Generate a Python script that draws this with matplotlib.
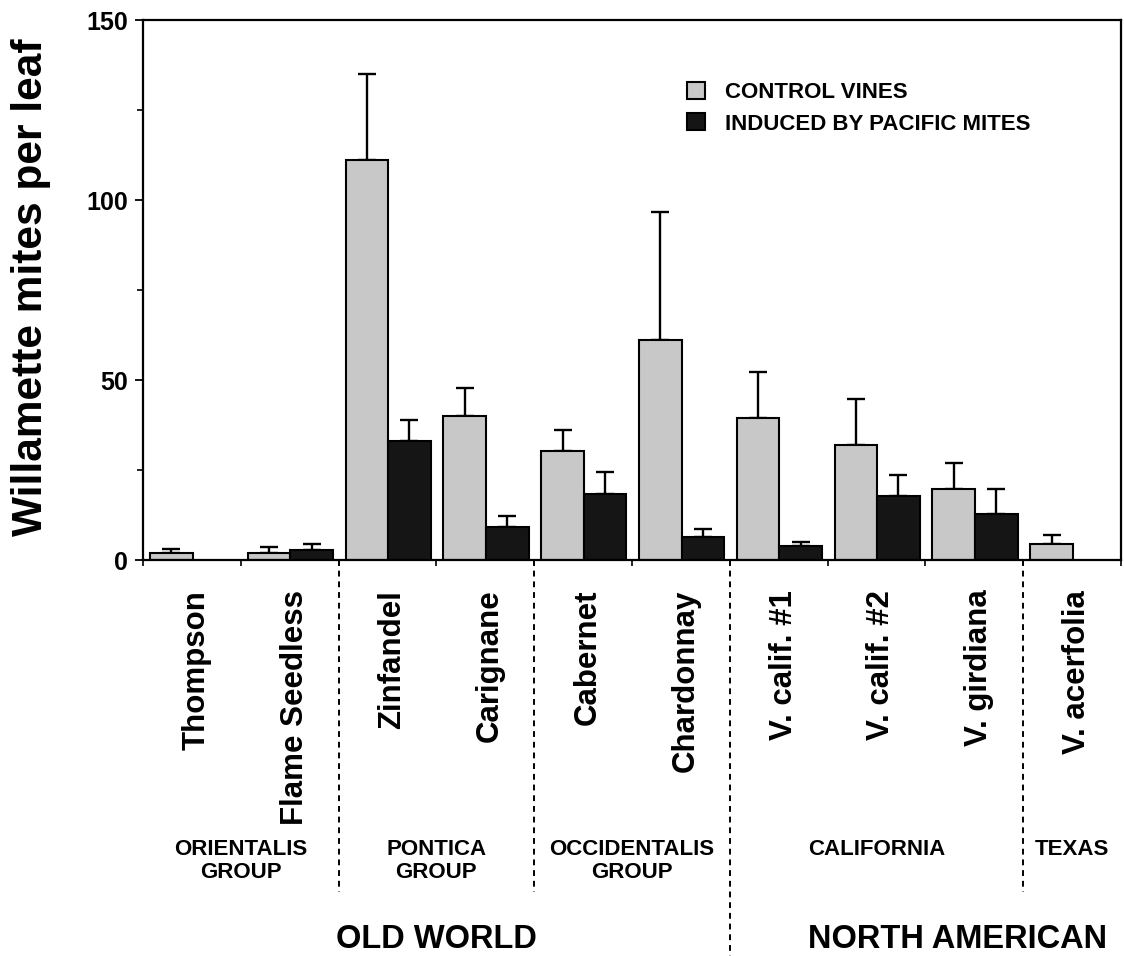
import matplotlib
matplotlib.use('Agg')
import matplotlib.pyplot as plt
import numpy as np
from matplotlib.lines import Line2D
from matplotlib.ticker import MultipleLocator
from matplotlib.transforms import blended_transform_factory

# Datos
categorias = ['Thompson', 'Flame Seedless', 'Zinfandel', 'Carignane', 'Cabernet',
              'Chardonnay', 'V. calif. #1', 'V. calif. #2', 'V. girdiana', 'V. acerfolia']
control = [1.9, 2.0, 111.1, 40.0, 30.3, 61.1, 39.4, 31.9, 19.7, 4.4]
control_err = [1.2, 1.6, 23.9, 7.8, 5.8, 35.6, 12.8, 12.8, 7.2, 2.5]
inducido = [np.nan, 2.8, 33.0, 9.2, 18.3, 6.4, 3.9, 17.8, 12.7, np.nan]
inducido_err = [np.nan, 1.6, 5.9, 3.1, 6.2, 2.2, 1.1, 5.8, 7.0, np.nan]

grupos = ['ORIENTALIS\nGROUP', 'PONTICA\nGROUP', 'OCCIDENTALIS\nGROUP', 'CALIFORNIA', 'TEXAS']
grupos_limites = [0, 2, 4, 6, 9, 10]
regiones = ['OLD WORLD', 'NORTH AMERICAN']
regiones_x = [3.0, 8.33]

plt.rcParams['font.family'] = ['Liberation Sans', 'DejaVu Sans']
plt.rcParams['font.weight'] = 'bold'

fig = plt.figure(figsize=(11.24, 9.56), dpi=100)
ax = fig.add_axes([143 / 1124, 1 - 560 / 956, 978 / 1124, 540 / 956])

x = np.arange(len(categorias))
ancho = 0.435
ax.bar(x + 0.072, control, width=ancho, align='edge', color='#c8c8c8',
       edgecolor='black', linewidth=1.5, zorder=2)
ax.bar(x + 0.072 + ancho, inducido, width=ancho, align='edge', color='#151515',
       edgecolor='black', linewidth=1.5, zorder=2)

ceros = np.zeros(len(x))
ax.errorbar(x + 0.072 + ancho / 2, control, yerr=[ceros, control_err], fmt='none',
            ecolor='black', elinewidth=1.7, capsize=6.8, capthick=1.7, zorder=1)
ax.errorbar(x + 0.072 + 1.5 * ancho, inducido, yerr=[ceros, inducido_err], fmt='none',
            ecolor='black', elinewidth=1.7, capsize=6.8, capthick=1.7, zorder=1)

ax.set_xlim(0, 10)
ax.set_ylim(0, 150)
ax.set_xticks(np.arange(0, 11))
ax.set_xticklabels([])
ax.yaxis.set_major_locator(MultipleLocator(50))
ax.yaxis.set_minor_locator(MultipleLocator(25))
ax.tick_params(axis='y', which='major', length=6, width=1.3, labelsize=18, pad=5)
ax.tick_params(axis='y', which='minor', length=4, width=1.2)
ax.tick_params(axis='x', length=4, width=1.2)
for s in ax.spines.values():
    s.set_linewidth(1.6)

# Leyenda
leg = ax.legend(['CONTROL VINES', 'INDUCED BY PACIFIC MITES'], loc='upper left',
                bbox_to_anchor=(0.556, 0.885), frameon=False, fontsize=16,
                handlelength=0.8, handleheight=0.8, handletextpad=0.9,
                labelspacing=0.45, borderpad=0, borderaxespad=0)

# Etiquetas de las variedades (verticales)
tr = blended_transform_factory(ax.transData, ax.transAxes)
for i, nombre in enumerate(categorias):
    ax.text(i + 0.55, -0.055, nombre, rotation=90, ha='center', va='top',
            transform=tr, fontsize=22.5, fontweight='bold')

# Lineas discontinuas entre grupos
for xb, yb in [(2, -0.615), (4, -0.615), (6, -0.735), (9, -0.615)]:
    ax.add_line(Line2D([xb, xb], [0, yb], transform=tr, color='black', lw=1.4,
                       linestyle=(0, (3, 2.5)), clip_on=False))

# Nombres de los grupos
for g, a, b in zip(grupos, grupos_limites[:-1], grupos_limites[1:]):
    ax.text((a + b) / 2, -0.517, g, ha='center', va='top', transform=tr,
            fontsize=16, linespacing=1.1, fontweight='bold')

for r, xr in zip(regiones, regiones_x):
    ax.text(xr, -0.718, r, ha='center', va='baseline', transform=tr,
            fontsize=23.5, fontweight='bold')

fig.text(31 / 1124, 1 - 287 / 956, 'Willamette mites per leaf', rotation=90,
         ha='center', va='center', fontsize=30.5, fontweight='bold')

fig.savefig('out.png', dpi=100)
plt.close('all')
